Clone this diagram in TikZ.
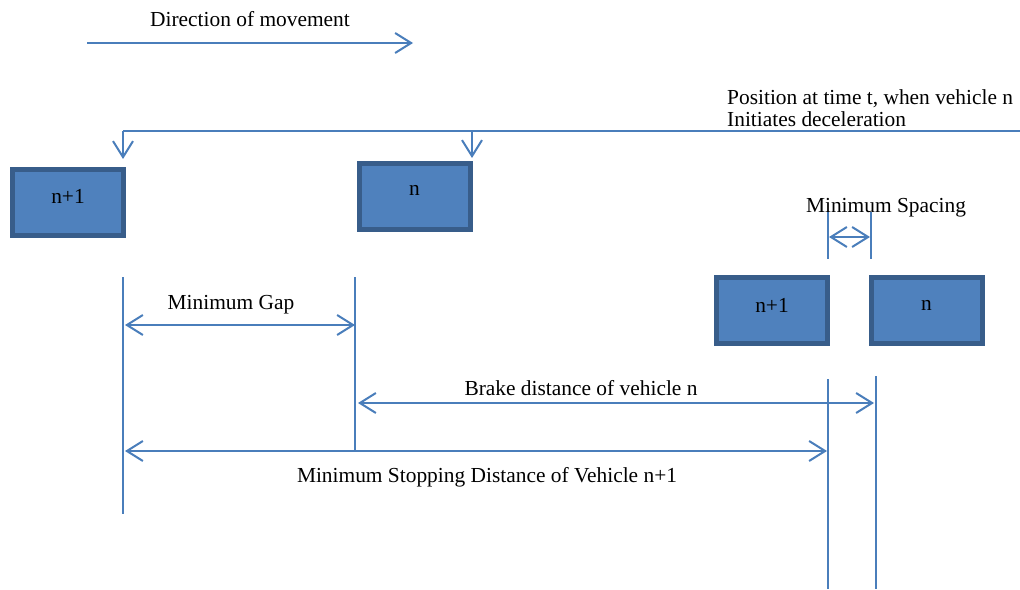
\documentclass[tikz,border=0pt]{standalone}
\usepackage{fontspec}
\setmainfont{Liberation Serif}
\usetikzlibrary{arrows.meta}
\definecolor{lineblue}{HTML}{4A7EBB}
\definecolor{boxfill}{HTML}{4F81BD}
\definecolor{boxedge}{HTML}{385D8A}
\tikzset{
  conn/.style={draw=lineblue, line width=2pt},
  tip/.style={conn, -{Straight Barb[length=16pt,width=20pt]}},
  dimarrow/.style={conn, {Straight Barb[length=16pt,width=20pt]}-{Straight Barb[length=16pt,width=20pt]}},
  vehicle/.style={draw=boxedge, fill=boxfill, line width=5pt, minimum width=111pt, minimum height=66pt, inner sep=0pt},
  lbl/.style={font=\fontsize{21.4}{24}\selectfont, inner sep=0pt, anchor=base},
  lblleft/.style={lbl, anchor=base west},
  boxlbl/.style={font=\fontsize{21.4}{24}\selectfont, inner sep=0pt, yshift=6pt}
}
\begin{document}
\begin{tikzpicture}[x=1pt,y=-1pt]
\useasboundingbox (0,0) rectangle (1020,589);

% direction of travel
\node[lbl] (dirtext) at (250,27) {Direction of movement};
\coordinate (dirA) at (87,43);
\coordinate (dirB) at (413,43);
\draw[tip] (dirA) -- (dirB);

% position at time t
\node[lblleft] (pos1) at (727,104) {Position at time t, when vehicle n};
\node[lblleft] (pos2) at (727,126) {Initiates deceleration};
\coordinate (posR) at (1020,131);
\coordinate (posC) at (123,131);
\coordinate (posJ) at (472,131);
\coordinate (posT1) at (123,159);
\coordinate (posT2) at (472,158);
\draw[conn] (posR) -- (posC);
\draw[tip] (posC) -- (posT1);
\draw[tip] (posJ) -- (posT2);

% vehicles at time t
\node[vehicle, label={[boxlbl]center:n+1}] (v1) at (68,202.5) {};
\node[vehicle, label={[boxlbl]center:n}] (v0) at (414.5,196) {};

% vehicles after stopping
\node[vehicle, label={[boxlbl, yshift=-1pt]center:n+1}] (w1) at (772,310) {};
\node[vehicle, label={[boxlbl, yshift=-1pt]center:n}] (w0) at (926.5,310) {};

% minimum spacing
\node[lbl] (spacetext) at (886,212) {Minimum Spacing};
\coordinate (s1a) at (828,212);
\coordinate (s1b) at (828,259);
\coordinate (s2a) at (871,212);
\coordinate (s2b) at (871,259);
\draw[conn, line width=1.5pt] (s1a) -- (s1b);
\draw[conn, line width=1.5pt] (s2a) -- (s2b);
\coordinate (sL) at (829,237);
\coordinate (sR) at (870,237);
\draw[dimarrow] (sL) -- (sR);

% reference lines
\coordinate (r1a) at (123,277);
\coordinate (r1b) at (123,514);
\coordinate (r2a) at (355,277);
\coordinate (r2b) at (355,451);
\coordinate (r3a) at (828,379);
\coordinate (r3b) at (828,589);
\coordinate (r4a) at (876,376);
\coordinate (r4b) at (876,589);
\draw[conn] (r1a) -- (r1b);
\draw[conn] (r2a) -- (r2b);
\draw[conn] (r3a) -- (r3b);
\draw[conn] (r4a) -- (r4b);

% minimum gap
\node[lbl] (gaptext) at (231,309) {Minimum Gap};
\coordinate (gL) at (125,325);
\coordinate (gR) at (355,325);
\draw[dimarrow] (gL) -- (gR);

% brake distance
\node[lbl] (braketext) at (581,395) {Brake distance of vehicle n};
\coordinate (bL) at (358,403);
\coordinate (bR) at (874,403);
\draw[dimarrow] (bL) -- (bR);

% minimum stopping distance
\node[lbl] (stoptext) at (487,482) {Minimum Stopping Distance of Vehicle n+1};
\coordinate (mL) at (125,451);
\coordinate (mR) at (827,451);
\draw[dimarrow] (mL) -- (mR);
\end{tikzpicture}
\end{document}
